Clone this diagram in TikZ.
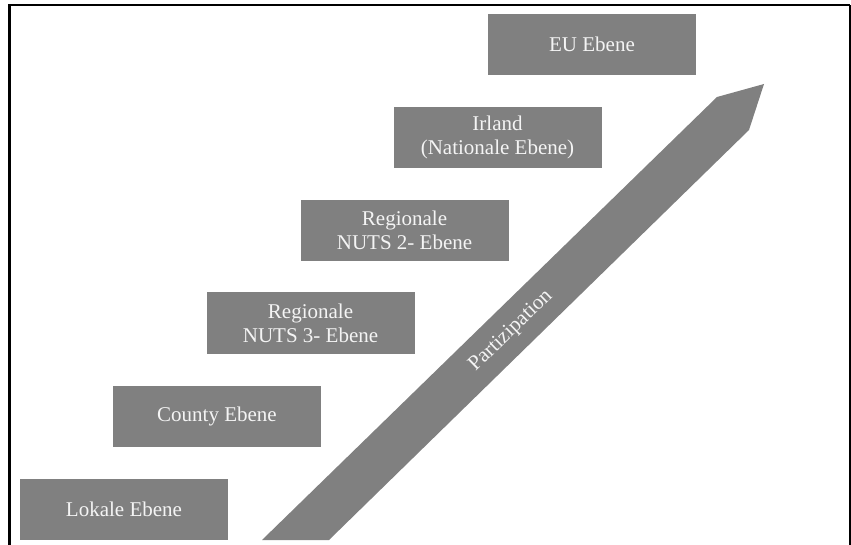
\documentclass[tikz,border=0pt]{standalone}
\usepackage{fontspec}
\setmainfont{Liberation Serif}
\definecolor{boxgray}{HTML}{808080}
\definecolor{txtwhite}{HTML}{F4F4F4}
\begin{document}
\begin{tikzpicture}[x=1bp,y=-1bp,
  levelbox/.style={fill=boxgray, draw=none, minimum width=208bp, minimum height=61bp,
    inner sep=0pt, align=center, text=txtwhite, font=\fontsize{21bp}{24bp}\selectfont},
  arrowlabel/.style={text=txtwhite, font=\fontsize{21bp}{24bp}\selectfont, inner sep=0pt},
  frameline/.style={draw=black, line width=2.5bp}]
\useasboundingbox (0,0) rectangle (851,545);
% frame
\coordinate (fl) at (9.5,545);
\coordinate (ftl) at (9.5,5.2);
\coordinate (ftr) at (850,5.2);
\coordinate (fr) at (850,545);
\draw[frameline] (fl) -- (ftl) -- (ftr);
\draw[draw=black, line width=1.5bp] (ftr) -- (fr);
% big arrow
\fill[boxgray] (262,540) -- (717,97) -- (764,84) -- (749,130) -- (329,540) -- cycle;
\node[arrowlabel, rotate=44] (part) at (511,331) {Partizipation};
% level boxes
\node[levelbox] (lok) at (124,509.5) {Lokale Ebene};
\node[levelbox] (cty) at (217,416) {County Ebene};
\node[levelbox] (n3) at (310.5,323) {Regionale\\NUTS 3- Ebene};
\node[levelbox] (n2) at (404.5,230.5) {Regionale\\NUTS 2- Ebene};
\node[levelbox] (irl) at (497.5,137.5) {Irland\\(Nationale Ebene)};
\node[levelbox] (eu) at (592,44.5) {EU Ebene};
\end{tikzpicture}
\end{document}
